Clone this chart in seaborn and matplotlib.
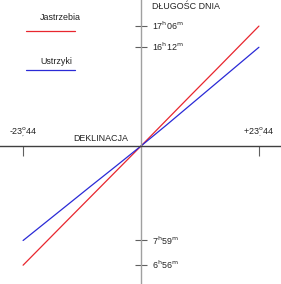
import numpy as np
import pandas as pd
import matplotlib
matplotlib.use('Agg')
import matplotlib.pyplot as plt
import seaborn as sns

# deklinacja slonca (stopnie) i dlugosc dnia (godziny)
decl = [-23.44, -15, -10, -5, 0, 5, 10, 15, 23.44]
jastrzebia = [6.93, 8.76, 9.84, 10.92, 12.0, 13.09, 14.18, 15.26, 17.1]
ustrzyki = [7.98, 9.43, 10.29, 11.14, 12.0, 12.88, 13.78, 14.68, 16.2]

x_ticks = [-23.44, 23.44]
x_labels = [r'-23$^{\rm o}_{,}$44', r'+23$^{\rm o}_{.}$44']
y_ticks = [17.1, 16.2, 7.983, 6.933]
y_labels = [r'17$^{\rm h}$06$^{\rm m}$', r'16$^{\rm h}$12$^{\rm m}$',
            r'7$^{\rm h}$59$^{\rm m}$', r'6$^{\rm h}$56$^{\rm m}$']

df = pd.DataFrame({
    'deklinacja': decl * 2,
    'dlugosc': jastrzebia + ustrzyki,
    'miejsce': ['Jastrzebia'] * len(decl) + ['Ustrzyki'] * len(decl),
})

sns.set_style('white')
plt.rcParams['font.family'] = ['Liberation Sans Narrow', 'Liberation Sans', 'DejaVu Sans']
plt.rcParams['mathtext.fontset'] = 'custom'
plt.rcParams['mathtext.rm'] = 'Liberation Sans Narrow'
plt.rcParams['mathtext.it'] = 'Liberation Sans Narrow'

colors = {'Jastrzebia': '#e8262e', 'Ustrzyki': '#2a2ad6'}
fs = 6.4

fig = plt.figure(figsize=(2.81, 2.84), dpi=100)
ax = fig.add_axes([0, 0, 1, 1])
sns.lineplot(data=df, x='deklinacja', y='dlugosc', hue='miejsce',
             palette=colors, linewidth=0.9, legend=False, ax=ax, sort=False)

ax.set_xlim(-28.03, 27.83)
ax.set_ylim(6.13, 18.21)

# osie przez srodek
ax.spines['left'].set_position(('data', 0))
ax.spines['bottom'].set_position(('data', 12))
ax.spines['top'].set_visible(False)
ax.spines['right'].set_visible(False)
ax.spines['left'].set_color('#a0a0a0')
ax.spines['left'].set_linewidth(1.0)
ax.spines['bottom'].set_color('#404040')
ax.spines['bottom'].set_linewidth(1.0)
ax.set_xlabel('')
ax.set_ylabel('')

ax.set_xticks(x_ticks)
ax.set_xticklabels([])
ax.tick_params(axis='x', direction='out', length=7, width=0.8, color='#606060', bottom=True)
ax.set_yticks(y_ticks)
ax.set_yticklabels([])
ax.tick_params(axis='y', direction='inout', length=8, width=0.8, color='#606060', left=True)

for x, lab in zip(x_ticks, x_labels):
    ax.text(x, 12.6, lab, ha='center', va='center', fontsize=fs, color='#222222')
for y, lab in zip(y_ticks, y_labels):
    ax.text(2.2, y, lab, ha='left', va='center', fontsize=fs, color='#222222')

ax.text(-2.6, 12.33, 'DEKLINACJA', ha='right', va='center', fontsize=fs, color='#222222')
ax.text(2.2, 17.95, 'DŁUGOŚC DNIA', ha='left', va='center', fontsize=fs, color='#222222')

# legenda: tekst nad linia
for name, ty, ly in [('Jastrzebia', 0.937, 0.89), ('Ustrzyki', 0.782, 0.753)]:
    ax.text(0.142, ty, name, transform=ax.transAxes, ha='left', va='center',
            fontsize=fs, color='#222222')
    ax.plot([0.093, 0.268], [ly, ly], transform=ax.transAxes,
            color=colors[name], linewidth=0.9)

plt.savefig('out.png', dpi=100)
